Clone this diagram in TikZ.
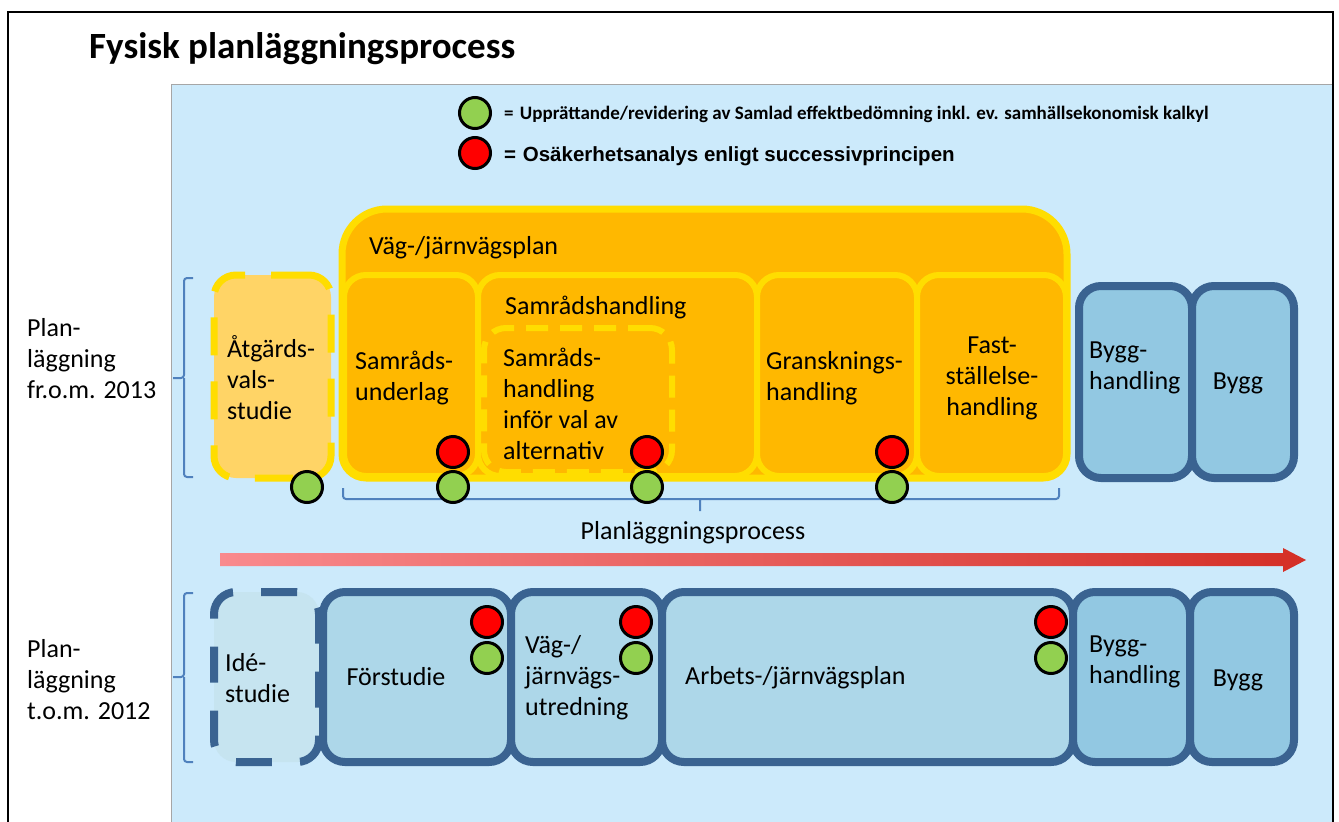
\documentclass[tikz,border=0pt]{standalone}
\usepackage{fontspec}
\setmainfont{Carlito}
\newfontfamily\arialfont{Liberation Sans}
\usepackage{xcolor}
\usepackage{tikz}
\usetikzlibrary{positioning}

\definecolor{panelblue}{HTML}{CCEAFB}
\definecolor{planorange}{HTML}{FFB800}
\definecolor{planyellow}{HTML}{FFDD00}
\definecolor{avsorange}{HTML}{FFD466}
\definecolor{boxblue}{HTML}{3A6391}
\definecolor{byggblue}{HTML}{92C8E2}
\definecolor{stageblue}{HTML}{ADD7E9}
\definecolor{ideblue}{HTML}{C6E4F0}
\definecolor{bracketblue}{HTML}{4F81BD}
\definecolor{dotgreen}{HTML}{92D050}
\definecolor{dotred}{HTML}{FF0000}
\definecolor{arrowpink}{HTML}{F98A8D}
\definecolor{arrowred}{HTML}{D42F26}

\begin{document}
\begin{tikzpicture}[x=1pt, y=-1pt,
  lbl/.style={font=\fontsize{26}{31}\selectfont, inner sep=0pt, align=left},
  planbox/.style={draw=planyellow, fill=planorange, line width=6pt, rounded corners=22pt, inner sep=0pt},
  avsbox/.style={planbox, fill=avsorange, line width=7pt, dash pattern=on 38pt off 26pt},
  stagebox/.style={draw=boxblue, fill=stageblue, line width=8pt, rounded corners=22pt, inner sep=0pt},
  byggbox/.style={stagebox, fill=byggblue},
  idebox/.style={stagebox, fill=ideblue, dash pattern=on 36pt off 28pt},
  dot/.style={circle, draw=black, line width=3pt, minimum size=31pt, inner sep=0pt},
  gdot/.style={dot, fill=dotgreen},
  rdot/.style={dot, fill=dotred},
  bracket/.style={draw=bracketblue, line width=2pt, rounded corners=3pt}]
\useasboundingbox (0,0) rectangle (1339,822);

% background and frame
\fill[white] (0,0) rectangle (1339,822);
\fill[panelblue] (171,84) rectangle (1333,822);
\draw[gray!70, line width=1pt] (171,822) -- (171,84) -- (1333,84);
\draw[line width=2pt] (8,822) -- (8,12) -- (1333,12) -- (1333,822);

\node[anchor=west, inner sep=0pt, font=\fontsize{37}{42}\selectfont\bfseries] (title) at (89,49) {Fysisk planläggningsprocess};

% legend
\node[gdot] (legend_g) at (475,113) {};
\node[rdot] (legend_r) at (475,153) {};
\node[anchor=west, inner sep=0pt, font=\fontsize{19}{22}\selectfont\bfseries] (legend_gtext) at (504,114)
  {= \hspace{2pt}Upprättande/revidering av Samlad effektbedömning inkl. ev. samhällsekonomisk kalkyl};
\node[anchor=west, inner sep=0pt, font=\fontsize{20.5}{22}\selectfont\arialfont\bfseries] (legend_rtext) at (504,156)
  {= \hspace{1pt}Osäkerhetsanalys enligt successivprincipen};

% planning from 2013
\filldraw[draw=planyellow, fill=planorange, line width=7pt]
  (342,340) [rounded corners=45pt] -- (342,209) -- (1067,209) -- (1067,340)
  [rounded corners=24pt] -- (1067,478) -- (342,478) -- cycle;
\node[planbox, minimum width=134pt, minimum height=201pt] (sunderlag) at (411,375.5) {};
\node[planbox, minimum width=279pt, minimum height=201pt] (shandling) at (617.5,375.5) {};
\node[planbox, minimum width=160pt, minimum height=201pt] (gransk) at (837,375.5) {};
\node[planbox, minimum width=149pt, minimum height=201pt] (faststall) at (991.5,375.5) {};
\node[planbox, dash pattern=on 22pt off 12pt, minimum width=188pt, minimum height=144pt] (sinfor) at (578,400) {};
\node[avsbox, minimum width=117pt, minimum height=203pt] (atgard) at (272.5,376.5) {};
\node[byggbox, minimum width=113pt, minimum height=192pt] (bhandling_a) at (1135.5,382) {};
\node[byggbox, minimum width=102pt, minimum height=192pt] (bygg_a) at (1243,382) {};

\node[lbl, anchor=west] (vjplan_t) at (369,248) {Väg-/järnvägsplan};
\node[lbl, anchor=west] (atgard_t) at (227,378) {Åtgärds-\\vals-\\studie};
\node[lbl, anchor=west] (sunderlag_t) at (355,378) {Samråds-\\underlag};
\node[lbl, anchor=west] (shandling_t) at (505,308) {Samrådshandling};
\node[lbl, anchor=west] (sinfor_t) at (503,404) {Samråds-\\handling\\inför val av\\alternativ};
\node[lbl, anchor=west] (gransk_t) at (766,378) {Gransknings-\\handling};
\node[lbl, align=center] (faststall_t) at (992,378) {Fast-\\ställelse-\\handling};
\node[lbl, anchor=west] (bhandling_at) at (1089,368) {Bygg-\\handling};
\node[lbl] (bygg_at) at (1238,383) {Bygg};
\node[lbl, anchor=west] (from2013) at (27,359) {Plan-\\läggning\\fr.o.m. 2013};

\draw[bracket] (193,278) -- (184,278) -- (184,378) -- (173,378) (184,378) -- (184,477) -- (193,477);
\draw[bracket] (343,488) -- (343,499) -- (1059,499) -- (1059,488) (700,499) -- (700,511);

\node[gdot] (g0) at (307,487) {};
\node[rdot] (r1) at (453,452) {};
\node[gdot] (g1) at (453,487) {};
\node[rdot] (r2) at (647,452) {};
\node[gdot] (g2) at (647,487) {};
\node[rdot] (r3) at (892,452) {};
\node[gdot] (g3) at (892,487) {};

\node[lbl] (process_t) at (693,533) {Planläggningsprocess};

% process arrow
\shade[left color=arrowpink, right color=arrowred]
  (220,553) -- (1283,553) -- (1283,548) -- (1306,560) -- (1283,572) -- (1283,566) -- (220,566) -- cycle;

% planning until 2012
\node[idebox, minimum width=105pt, minimum height=170pt] (ide) at (266.5,677) {};
\node[stagebox, minimum width=188pt, minimum height=170pt] (forstudie) at (417,677) {};
\node[stagebox, minimum width=151pt, minimum height=170pt] (vjutred) at (586.5,677) {};
\node[stagebox, minimum width=411pt, minimum height=170pt] (arbets) at (867.5,677) {};
\node[byggbox, minimum width=117pt, minimum height=170pt] (bhandling_b) at (1131.5,677) {};
\node[byggbox, minimum width=104pt, minimum height=170pt] (bygg_b) at (1242,677) {};

\node[lbl, anchor=west] (ide_t) at (225,678) {Idé-\\studie};
\node[lbl] (forstudie_t) at (396,677) {Förstudie};
\node[lbl, anchor=west] (vjutred_t) at (525,678) {Väg-/\\järnvägs-\\utredning};
\node[lbl, anchor=west] (arbets_t) at (685,678) {Arbets-/järnvägsplan};
\node[lbl, anchor=west] (bhandling_bt) at (1089,662) {Bygg-\\handling};
\node[lbl] (bygg_bt) at (1238,680) {Bygg};
\node[lbl, anchor=west] (to2012) at (27,680) {Plan-\\läggning\\t.o.m. 2012};

\draw[bracket] (193,593) -- (184,593) -- (184,677) -- (173,677) (184,677) -- (184,762) -- (193,762);

\node[rdot] (rb1) at (487,622) {};
\node[gdot] (gb1) at (487,658) {};
\node[rdot] (rb2) at (636,622) {};
\node[gdot] (gb2) at (636,658) {};
\node[rdot] (rb3) at (1051,622) {};
\node[gdot] (gb3) at (1051,658) {};

\end{tikzpicture}
\end{document}
